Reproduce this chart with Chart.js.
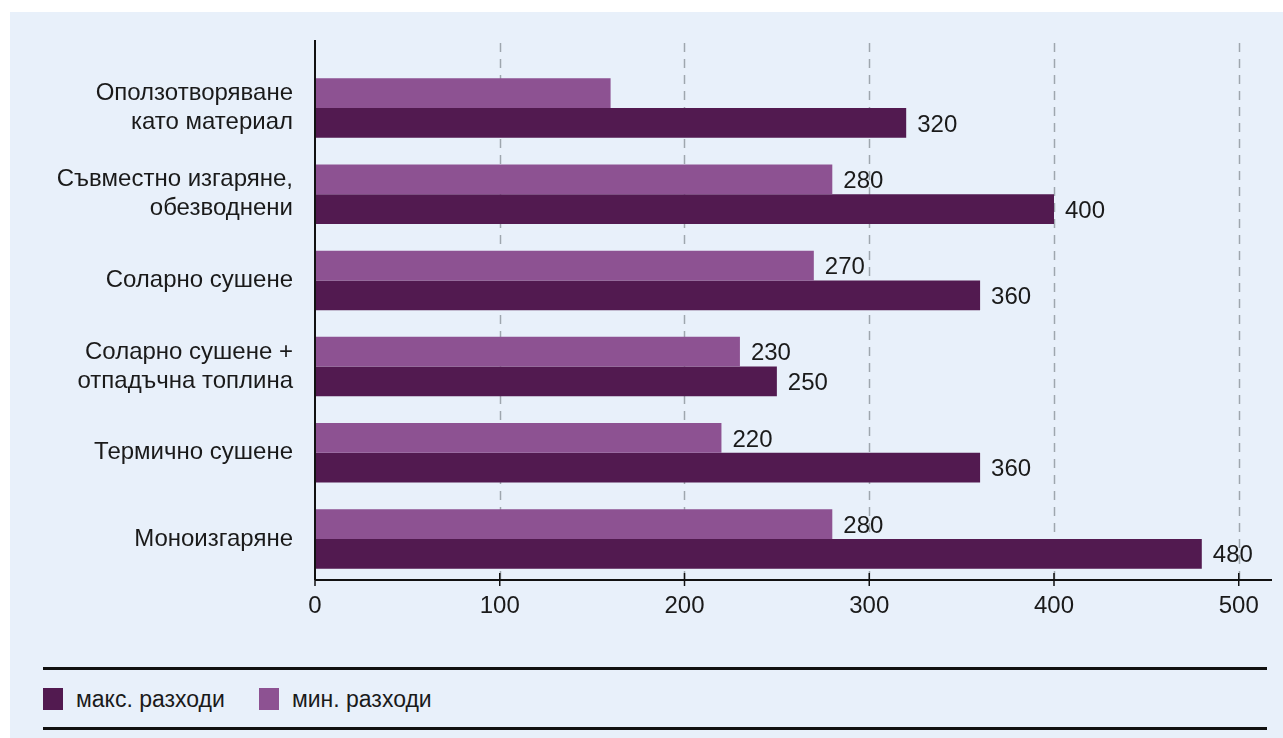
<!DOCTYPE html>
<html>
<head>
<meta charset="utf-8">
<script src="https://cdn.jsdelivr.net/npm/chart.js@4/dist/chart.umd.min.js"></script>
<style>
  body { margin: 0; background: #fff; font-family: "Liberation Sans", Arial, sans-serif; }
  #panel { position: absolute; left: 10px; top: 12px; width: 1273px; height: 726px; background: #e8f0fa; }
  #chartBox { position: absolute; left: 0; top: 0; width: 1283px; height: 640px; }
  .rule { position: absolute; left: 43px; width: 1224px; height: 0; border-top: 3px solid #111; }
  .legend { position: absolute; left: 43px; top: 686px; height: 26px; display: flex; align-items: center; font-size: 23px; color: #1a1a1a; }
  .legend .box { width: 20px; height: 22px; margin-right: 13px; }
  .legend .item { display: flex; align-items: center; margin-right: 34px; }
</style>
</head>
<body>
<div id="panel"></div>
<div id="chartBox"><canvas id="costChart" width="1283" height="640"></canvas></div>
<div class="rule" style="top:667px"></div>
<div class="legend" id="legend"></div>
<div class="rule" style="top:727px"></div>
<script>
const categories = [
  ["Оползотворяване", "като материал"],
  ["Съвместно изгаряне,", "обезводнени"],
  ["Соларно сушене"],
  ["Соларно сушене +", "отпадъчна топлина"],
  ["Термично сушене"],
  ["Моноизгаряне"]
];
const maxCosts = [320, 400, 360, 250, 360, 480];
const minCosts = [160, 280, 270, 230, 220, 280];
const xTicks = [0, 100, 200, 300, 400, 500];
// the first min bar has no value label in the original
const unlabelledMin = [0];

const DARK = "#521a50";
const LIGHT = "#8d5292";
const TEXT = "#1a1a1a";
const FONT = "'Liberation Sans', Arial, sans-serif";

// legend: max first, then min
const legendItems = [
  { label: "макс. разходи", color: DARK },
  { label: "мин. разходи", color: LIGHT }
];
document.getElementById("legend").innerHTML = legendItems
  .map((it) => `<div class="item"><div class="box" style="background:${it.color}"></div>${it.label}</div>`)
  .join("");

const axesPlugin = {
  id: "axesPlugin",
  beforeDatasetsDraw(chart) {
    const { ctx, chartArea, scales } = chart;
    ctx.save();
    ctx.strokeStyle = "#9ea6ae";
    ctx.lineWidth = 1.5;
    ctx.setLineDash([9, 7]);
    xTicks.forEach((v) => {
      if (v === 0) return;
      const x = Math.round(scales.x.getPixelForValue(v)) + 0.5;
      ctx.beginPath();
      ctx.moveTo(x, chartArea.top - 22);
      ctx.lineTo(x, chartArea.bottom);
      ctx.stroke();
    });
    ctx.restore();
  },
  afterDatasetsDraw(chart) {
    const { ctx, chartArea, scales } = chart;
    const axisY = chartArea.bottom - 2;
    ctx.save();
    ctx.strokeStyle = "#111";
    ctx.lineWidth = 2;
    // y axis
    ctx.beginPath();
    ctx.moveTo(chartArea.left, chartArea.top - 25);
    ctx.lineTo(chartArea.left, axisY);
    ctx.stroke();
    // x axis
    ctx.beginPath();
    ctx.moveTo(chartArea.left, axisY);
    ctx.lineTo(chartArea.right, axisY);
    ctx.stroke();
    // tick marks
    ctx.lineWidth = 1.5;
    xTicks.forEach((v) => {
      const x = scales.x.getPixelForValue(v);
      ctx.beginPath();
      ctx.moveTo(x, axisY - 7);
      ctx.lineTo(x, axisY + 6);
      ctx.stroke();
    });

    // value labels
    ctx.fillStyle = TEXT;
    ctx.font = "24px " + FONT;
    ctx.textBaseline = "middle";
    ctx.textAlign = "left";
    chart.data.datasets.forEach((ds, di) => {
      const meta = chart.getDatasetMeta(di);
      meta.data.forEach((bar, i) => {
        if (ds.isMin && unlabelledMin.includes(i)) return;
        ctx.fillText(String(ds.data[i]), bar.x + 11, bar.y + 2);
      });
    });
    ctx.restore();
  }
};

new Chart(document.getElementById("costChart"), {
  type: "bar",
  data: {
    labels: categories,
    datasets: [
      { label: "мин. разходи", data: minCosts, backgroundColor: LIGHT, isMin: true },
      { label: "макс. разходи", data: maxCosts, backgroundColor: DARK }
    ]
  },
  options: {
    indexAxis: "y",
    responsive: false,
    animation: false,
    events: [],
    datasets: { bar: { barPercentage: 1, categoryPercentage: 0.69 } },
    layout: { padding: { top: 65, right: 11, left: 0, bottom: 0 } },
    plugins: { legend: { display: false }, tooltip: { enabled: false } },
    scales: {
      x: {
        type: "linear",
        min: 0,
        max: 518,
        grid: { display: false, drawTicks: false },
        border: { display: false },
        ticks: { stepSize: 100, color: TEXT, font: { size: 24, family: FONT }, padding: 10 },
        afterBuildTicks(scale) {
          scale.ticks = xTicks.map((v) => ({ value: v }));
        },
        afterFit(scale) { scale.height = 58; }
      },
      y: {
        grid: { display: false, drawTicks: false },
        border: { display: false },
        ticks: { color: TEXT, font: { size: 24, family: FONT, lineHeight: 1.21 }, padding: 22 },
        afterFit(scale) { scale.width = 315; }
      }
    }
  },
  plugins: [axesPlugin]
});
</script>
</body>
</html>
